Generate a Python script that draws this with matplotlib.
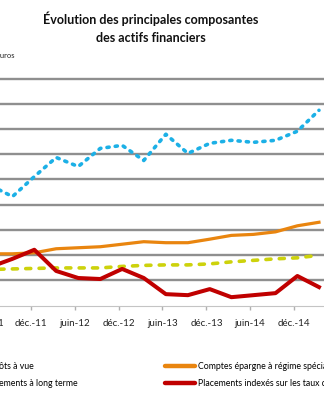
import matplotlib
matplotlib.use("Agg")
import matplotlib.pyplot as plt
import pandas as pd

W, H = 324, 400

# quarterly series, June 2011 -> March 2015
start = "2011-06-01"
n_points = 16
depots_vue = [4.76, 4.32, 5.11, 5.87, 5.51, 6.23, 6.35, 5.75, 6.79, 6.03,
              6.43, 6.55, 6.47, 6.55, 6.91, 7.74]
long_terme = [1.43, 1.45, 1.47, 1.49, 1.49, 1.49, 1.55, 1.59, 1.61, 1.61,
              1.65, 1.73, 1.79, 1.85, 1.89, 1.99]
regime_special = [2.05, 2.05, 2.09, 2.25, 2.29, 2.33, 2.43, 2.53, 2.49, 2.49,
                  2.63, 2.78, 2.82, 2.92, 3.16, 3.30]
taux_marche = [1.53, 1.85, 2.21, 1.37, 1.09, 1.05, 1.45, 1.09, 0.45, 0.41,
               0.65, 0.33, 0.41, 0.49, 1.17, 0.73]

labels = ["Dépôts à vue", "Placements à long terme",
          "Comptes épargne à régime spécial",
          "Placements indexés sur les taux du marché"]
colors = ["#1cb0e6", "#cdd20c", "#e9850f", "#c00000"]

tick_dates = pd.date_range("2011-06-01", "2014-12-01", freq="6MS")
month_names = {6: "juin", 12: "déc."}
tick_labels = [f"{month_names[d.month]}-{d.strftime('%y')}" for d in tick_dates]

dates = pd.date_range(start, periods=n_points, freq="3MS") + pd.Timedelta(days=14)

plt.rcParams["font.family"] = ["Lato", "DejaVu Sans"]


def fx(px):
    return px / W


def fy(py):
    return 1 - py / H


fig = plt.figure(figsize=(W / 100, H / 100), dpi=100)
bottom_px, top_px = 305.5, 76.5
ax = fig.add_axes([0, fy(bottom_px), 1, fy(top_px) - fy(bottom_px)])

h1, = ax.plot(dates, depots_vue, color=colors[0], lw=2.6,
              dashes=(0.6, 1.7), dash_capstyle="round")
h2, = ax.plot(dates, long_terme, color=colors[1], lw=2.6,
              dashes=(1.4, 2.3), dash_capstyle="round")
h3, = ax.plot(dates, regime_special, color=colors[2], lw=2.3,
              solid_joinstyle="round")
h4, = ax.plot(dates, taux_marche, color=colors[3], lw=2.9,
              solid_joinstyle="round")

ax.set_ylim(0, 9.08)
ax.set_yticks(range(1, 10))
ax.yaxis.grid(True, color="#8f8f8f", lw=1.7)
ax.set_axisbelow(True)
ax.tick_params(axis="y", left=False, labelleft=False)

tick_fs = 7.0
tick_len, tick_pad = 3, 7
ax.set_xticks(tick_dates)
ax.set_xticklabels(tick_labels, fontsize=tick_fs, color="#222222")
ax.tick_params(axis="x", direction="out", length=tick_len, width=1,
               color="#b0b0b0", pad=tick_pad)
# limits after the ticks, so the first tick does not widen the view
ax.set_xlim(pd.Timestamp("2011-07-25"), pd.Timestamp("2015-04-05"))

# first tick sits left of the view, its label is only partly visible
ax.annotate(tick_labels[0], xy=(tick_dates[0], 0), xycoords=("data", "axes fraction"),
            xytext=(1.5, -(tick_len + tick_pad)), textcoords="offset points",
            ha="center", va="top", fontsize=tick_fs, color="#222222",
            annotation_clip=False)

for s in ["top", "left", "right"]:
    ax.spines[s].set_visible(False)
ax.spines["bottom"].set_color("#c4c4c4")
ax.spines["bottom"].set_linewidth(0.8)

fig.text(fx(151), fy(28), "Évolution des principales composantes\ndes actifs financiers",
         ha="center", va="center", fontsize=9.0, fontweight="bold",
         linespacing=1.6, color="#111111")
fig.text(fx(15), fy(55), "Milliards d'euros", ha="right", va="center",
         fontsize=5.4, color="#222222")

leg_kw = dict(frameon=False, fontsize=6.3, handlelength=3.45, handletextpad=0.35,
              labelspacing=0.9, borderpad=0, borderaxespad=0)
leg1 = fig.legend([h1, h2], labels[:2], loc="upper right",
                  bbox_to_anchor=(fx(78), fy(362)), **leg_kw)
leg2 = fig.legend([h3, h4], labels[2:], loc="upper left",
                  bbox_to_anchor=(fx(165), fy(362)), **leg_kw)
for leg in (leg1, leg2):
    for line in leg.get_lines():
        line.set_linestyle("-")
        line.set_linewidth(3.2)
        line.set_solid_capstyle("round")

fig.savefig("out.png", dpi=100)
